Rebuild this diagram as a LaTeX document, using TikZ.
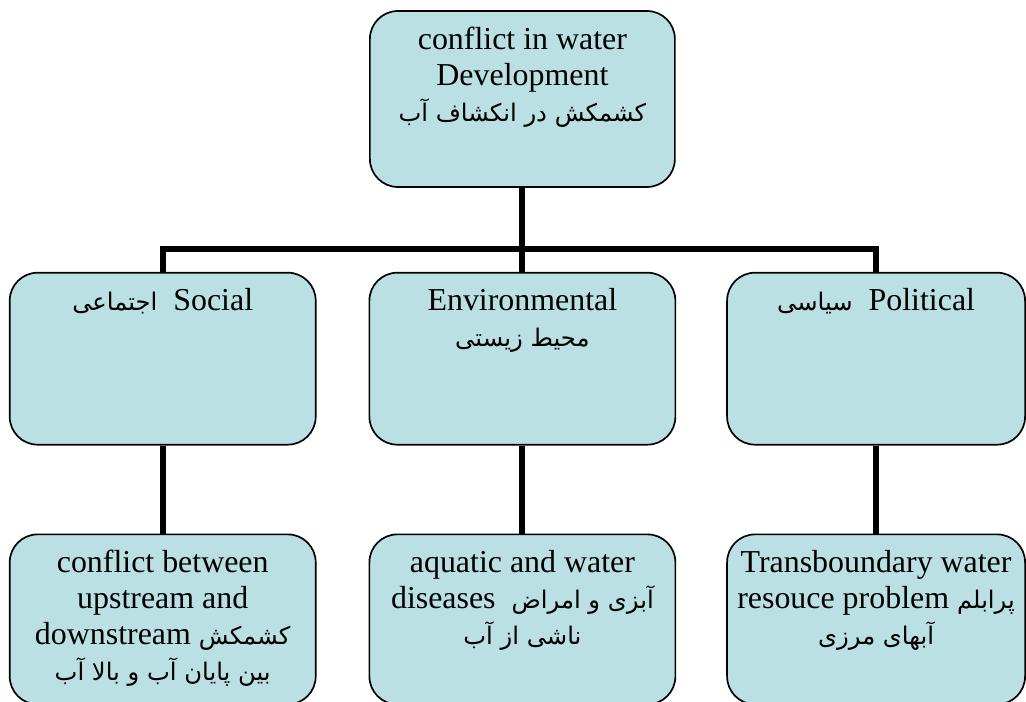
\documentclass[tikz,border=0pt]{standalone}
\usepackage{fontspec}
\setmainfont{Liberation Serif}
\newfontfamily\arabicfont[Script=Arabic,Scale=0.76]{DejaVu Sans}
\TeXXeTstate=1
\usepackage{tikz}
\usetikzlibrary{positioning, calc}
\usepackage{xcolor}
\definecolor{boxblue}{RGB}{186,224,228}
\tikzstyle{box} = [rectangle, rounded corners=0.7cm, minimum width=7.65cm, minimum height=4.3cm, inner sep=0pt, draw=black, line width=1.2pt, fill=boxblue, font=\fontsize{22.7}{25.5}\selectfont]
\tikzstyle{link} = [line width=0.15cm]
\newcommand{\fa}[1]{{\arabicfont\beginR #1\endR}}
\newcommand{\boxtext}[2][4.3cm]{\parbox[c][#1][t]{7.4cm}{\centering\lineskiplimit=-20pt\vspace*{0.4cm}#2}}

\begin{document}
\begin{tikzpicture}
        \useasboundingbox (0,0) rectangle (25.65,17.55);
        \node (top) [box, minimum width=7.625cm] at (13.06,15.075) {\boxtext[4.4cm]{conflict in water\\ Development\\ \fa{کشمکش در انکشاف آب}}};
        \node (env) [box, below=2.1cm of top] {\boxtext{Environmental\\ \fa{محیط زیستی}}};
        \node (soc) [box, left=1.3cm of env] {\boxtext{\fa{اجتماعی}\ \ Social}};
        \node (pol) [box, minimum width=7.45cm, right=1.25cm of env] {\boxtext{\fa{سیاسی}\ \ Political}};
        \node (socb) [box, minimum height=4.25cm, below=2.2cm of soc] {\boxtext[4.25cm]{conflict between\\ upstream and\\ downstream \fa{کشمکش}\\ \fa{بین پایان آب و بالا آب}}};
        \node (envb) [box, minimum height=4.25cm, below=2.2cm of env] {\boxtext[4.25cm]{aquatic and water\\ diseases\ \ \fa{آبزی و امراض}\\ \fa{ناشی از آب}}};
        \node (polb) [box, minimum width=7.45cm, minimum height=4.25cm, below=2.2cm of pol] {\boxtext[4.25cm]{Transboundary water\\ resouce problem \fa{پرابلم}\\ \fa{آبهای مرزی}}};
        \coordinate (hub) at ([yshift=-1.525cm]top.south);

        \draw [link] (top.south) -- (hub);
        \draw [link] (soc.north) |- (hub) -| (pol.north);
        \draw [link] (hub) -- (env.north);
        \draw [link] (soc.south) -- (socb.north);
        \draw [link] (env.south) -- (envb.north);
        \draw [link] (pol.south) -- (polb.north);
    \end{tikzpicture}
\end{document}
